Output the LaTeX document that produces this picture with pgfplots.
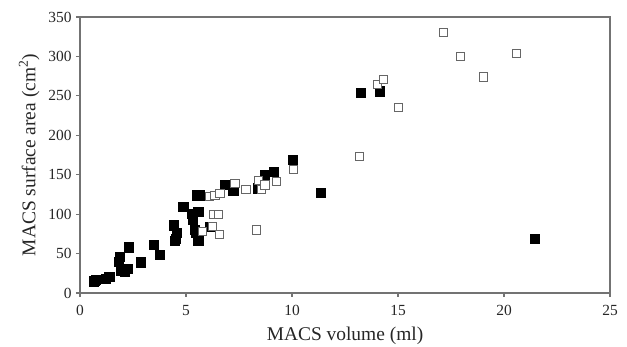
\documentclass[border=0pt]{standalone}
\usepackage{pgfplots}
\pgfplotsset{compat=1.18}
\usepackage{fontspec}
\setmainfont{Liberation Serif}
\begin{document}
\begin{tikzpicture}
\begin{axis}[
  scale only axis,
  width=530bp, height=276bp,
  xmin=0, xmax=25, ymin=0, ymax=350,
  xtick={0,5,...,25}, ytick={0,50,...,350},
  tick align=outside,
  xtick pos=left, ytick pos=left,
  major tick length=4bp,
  axis line style={draw=black!55, line width=1.3bp},
  every tick/.style={draw=black!55, line width=1.1bp},
  /pgf/number format/assume math mode=true,
  ticklabel style={font=\fontsize{15.5}{17}\selectfont, text=black!85},
  xticklabel style={yshift=-5bp},
  yticklabel style={xshift=-1bp},
  label style={font=\fontsize{19.5}{22}\selectfont, text=black!85},
  xlabel={MACS volume (ml)},
  ylabel={MACS surface area (cm\textsuperscript{2})},
  xlabel style={yshift=-4bp},
  ylabel style={yshift=2bp},
  clip=false,
]
\addplot[only marks, mark=square*, mark size=4.6bp, mark options={fill=black, draw=black}] coordinates {
(0.63,14) (0.75,17) (0.67,16) (1.23,18) (1.38,21) (1.89,46) (1.84,40) (2.28,58)
(1.93,29) (2.1,27) (2.23,31) (2.88,39) (3.46,61) (3.77,49)
(4.43,86) (4.55,76) (4.5,69) (4.45,66) (4.87,109) (5.27,101) (5.58,103) (5.3,93)
(5.42,80) (5.47,76) (5.58,67) (5.63,124) (5.5,124) (6.13,84) (6.84,137) (7.23,130)
(8.41,133) (8.73,150) (9.12,154) (10.03,169) (11.37,127) (13.24,254) (14.12,256) (21.46,69)
};
\addplot[only marks, mark=square*, mark size=4.1bp, mark options={fill=white, draw=black!60, line width=1bp}] coordinates {
(6.1,122) (6.37,124) (6.6,126) (6.29,100) (6.52,100) (5.77,78) (6.26,84) (6.57,74)
(7.31,139) (7.83,131) (8.41,143) (8.57,131) (8.73,137) (9.28,141) (10.06,157) (8.33,80)
(13.18,173) (14.03,264) (14.31,271) (15.02,235) (17.14,330) (17.96,300) (19.02,274) (20.6,304)
};
\end{axis}
\pgfresetboundingbox
\useasboundingbox ([shift={(-80bp,-54bp)}]current axis.south west) rectangle ([shift={(17bp,17bp)}]current axis.north east);
\end{tikzpicture}
\end{document}
